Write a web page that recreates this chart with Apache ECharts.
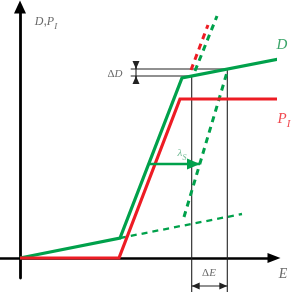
<!DOCTYPE html>
<html>
<head>
<meta charset="utf-8">
<script src="https://cdn.jsdelivr.net/npm/echarts@6/dist/echarts.min.js"></script>
<style>html,body{margin:0;padding:0;background:#fff}#c{width:291px;height:292px}</style>
</head>
<body>
<div id="c"></div>
<script>
// Curve points [E, D] in chart units (origin at axes crossing)
const curveD = [[0, 0], [100, 20], [162, 180], [259, 199]];
const curvePI = [[0, 0], [99, 0], [160, 159], [259, 159]];
const dashedPI = [[171, 188], [188, 233]];
const dashedDUpper = [[175, 187], [197, 242]];
const dashedDShifted = [[164, 41], [208, 189]];
const dashedDLow = [[100, 20], [222, 44]];
const shiftArrow = [[128, 94, 180, 94, 0, 1]];
// black annotation segments: [x1, y1, x2, y2, headAtStart, headAtEnd]
const guideSegments = [
  [110.7, 189, 207.3, 189, 0, 0],
  [110.7, 182, 171.7, 182, 0, 0],
  [171.7, 182, 171.7, -34, 0, 0],
  [207.3, 189, 207.3, -34, 0, 0],
  [116, 197, 116, 174, 0, 0],
  [116, 197, 116, 189, 0, 1],
  [116, 174, 116, 182, 0, 1],
  [171.7, -28, 207.3, -28, 1, 1]
];
// text labels
const labelTexts = ['{i|D},{i|P}{s|I}', '{u|Δ}{i|D}', '{u|Δ}{i|E}', '{i|E}', '{i|D}', '{i|P}{s|I}', '{i|λ}{s|S}'];
const labelPos = [[26, 236], [95, 184], [189, -15], [263, -16], [262, 213], [264, 139], [162, 105]];
const labelColors = ['#444', '#444', '#444', '#444', '#0b8f45', '#ed1c24', '#4aa877'];
const labelSizes = [12, 11, 11, 14, 15, 15, 11];

const GREEN = '#00a14b', RED = '#ed1c24';

function arrowRenderer(color, lw, hl, hw) {
  return function (params, api) {
    const p1 = api.coord([api.value(0), api.value(1)]);
    const p2 = api.coord([api.value(2), api.value(3)]);
    const children = [{
      type: 'line',
      shape: { x1: p1[0], y1: p1[1], x2: p2[0], y2: p2[1] },
      style: { stroke: color, lineWidth: lw }
    }];
    function head(tip, from) {
      const dx = tip[0] - from[0], dy = tip[1] - from[1];
      const L = Math.hypot(dx, dy) || 1;
      const ux = dx / L, uy = dy / L;
      const bx = tip[0] - ux * hl, by = tip[1] - uy * hl;
      children.push({
        type: 'polygon',
        shape: { points: [[tip[0], tip[1]], [bx - uy * hw / 2, by + ux * hw / 2], [bx + uy * hw / 2, by - ux * hw / 2]] },
        style: { fill: color }
      });
    }
    if (api.value(4)) head(p1, p2);
    if (api.value(5)) head(p2, p1);
    return { type: 'group', children: children };
  };
}

const chart = echarts.init(document.getElementById('c'), null, { renderer: 'canvas' });
function richFor(size, color) {
  return {
    i: { fontFamily: 'Liberation Serif', fontStyle: 'italic', fontSize: size, color: color, lineHeight: size + 4 },
    u: { fontFamily: 'Liberation Serif', fontSize: size, color: color, lineHeight: size + 4 },
    s: { fontFamily: 'Liberation Serif', fontStyle: 'italic', fontSize: Math.round(size * 0.72), color: color, verticalAlign: 'bottom', lineHeight: size + 6 }
  };
}
const labelData = labelTexts.map((t, k) => ({
  value: labelPos[k],
  label: { formatter: t, rich: richFor(labelSizes[k], labelColors[k]) }
}));

function lineSeries(data, color, width, dash, z) {
  return {
    type: 'line', data: data, symbol: 'none', clip: false, silent: true, animation: false, z: z,
    lineStyle: { color: color, width: width, type: dash || 'solid', cap: 'butt', join: 'miter' }
  };
}

chart.setOption({
  animation: false,
  grid: { left: 0, right: 17, top: 7, bottom: 14 },
  xAxis: {
    type: 'value', min: -20, max: 254,
    axisLine: { show: true, onZero: true, symbol: ['none', 'triangle'], symbolSize: [10, 13], lineStyle: { color: '#000', width: 2.6 } },
    axisTick: { show: false }, axisLabel: { show: false }, splitLine: { show: false }
  },
  yAxis: {
    type: 'value', min: -20, max: 251,
    axisLine: { show: true, onZero: true, symbol: ['none', 'triangle'], symbolSize: [12, 13], lineStyle: { color: '#000', width: 2.8 } },
    axisTick: { show: false }, axisLabel: { show: false }, splitLine: { show: false }
  },
  series: [
    { type: 'custom', data: guideSegments, renderItem: arrowRenderer('#222', 1.1, 8, 7), silent: true, z: 1 },
    lineSeries(dashedDLow, GREEN, 2.3, [6, 5], 2),
    lineSeries(dashedDShifted, GREEN, 3, [6, 5], 2),
    lineSeries(dashedDUpper, GREEN, 3, [6, 5], 2),
    lineSeries(dashedPI, RED, 3, [6, 5], 2),
    lineSeries(curveD, GREEN, 3.2, 'solid', 3),
    lineSeries(curvePI, RED, 3.2, 'solid', 3),
    { type: 'custom', data: shiftArrow, renderItem: arrowRenderer(GREEN, 2.6, 13, 11), silent: true, z: 4 },
    {
      type: 'scatter', data: labelData, symbolSize: 0, silent: true, z: 5, clip: false,
      labelLayout: { hideOverlap: false },
      label: { show: true, position: 'inside' }
    }
  ]
});
</script>
</body>
</html>
